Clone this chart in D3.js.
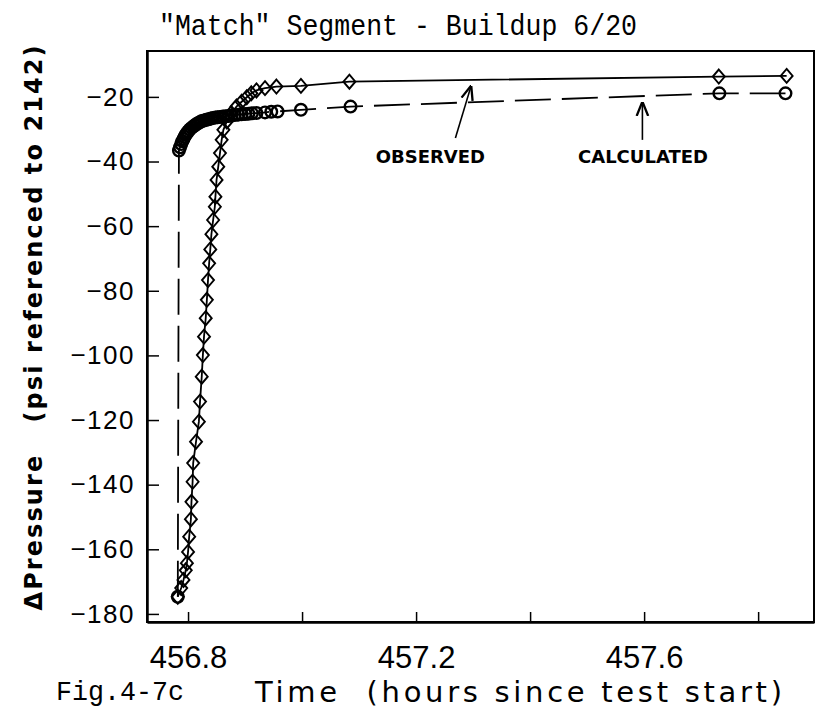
<!DOCTYPE html>
<html>
<head>
<meta charset="utf-8">
<script src="https://cdn.jsdelivr.net/npm/d3@7"></script>
<style>
  body { margin: 0; background: #fff; }
  svg { display: block; }
</style>
</head>
<body>
<div id="chart"></div>
<script>
// observed buildup (diamonds, solid line)
const obsHours = [456.782, 456.788, 456.792, 456.796, 456.798, 456.800, 456.802, 456.805, 456.806,
  456.808, 456.809, 456.814, 456.819, 456.821, 456.824, 456.826, 456.828, 456.831, 456.833,
  456.835, 456.837, 456.839, 456.841, 456.844, 456.847, 456.848, 456.850, 456.853, 456.856,
  456.859, 456.862, 456.868, 456.876, 456.885, 456.894, 456.903, 456.911, 456.920, 456.935,
  456.955, 456.998, 457.083, 457.731, 457.850]
const obsPressure = [-174.7, -172.0, -169.5, -166.5, -164.3, -160.8, -156.1, -150.7, -145.3,
  -139.1, -133.3, -126.7, -120.5, -114.3, -106.6, -99.9, -94.2, -88.5, -82.8,
  -76.7, -71.5, -67.2, -62.5, -58.1, -54.0, -50.9, -45.7, -41.6, -37.4,
  -33.3, -30.2, -27.6, -25.0, -23.0, -21.5, -20.1, -18.9, -18.0, -17.3,
  -16.8, -16.6, -15.3, -13.7, -13.5]

// calculated (circles, dashed line)
const calcHours = [456.782, 456.784, 456.786, 456.788, 456.790, 456.792, 456.794, 456.796, 456.798,
  456.800, 456.803, 456.806, 456.809, 456.812, 456.815, 456.818, 456.821, 456.824, 456.828,
  456.832, 456.836, 456.840, 456.844, 456.848, 456.852, 456.856, 456.861, 456.866, 456.871,
  456.876, 456.882, 456.888, 456.894, 456.900, 456.906, 456.912, 456.920, 456.935, 456.946,
  456.957, 456.998, 457.085, 457.732, 457.848]
const calcPressure = [-174.7, -36.6, -35.6, -34.6, -33.7, -33.0, -32.3, -31.7, -31.2,
  -30.7, -30.1, -29.6, -29.2, -28.8, -28.4, -28.1, -27.8, -27.5, -27.3,
  -27.1, -26.9, -26.7, -26.5, -26.4, -26.3, -26.2, -26.1, -26.0, -25.9,
  -25.8, -25.6, -25.5, -25.4, -25.3, -25.2, -25.1, -25.0, -24.8, -24.6,
  -24.5, -24.0, -23.0, -18.9, -18.9]

const xTicks = [456.8, 457.0, 457.2, 457.4, 457.6, 457.8]
const xTickLabels = ['456.8', '', '457.2', '', '457.6', '']
const yTicks = [-20, -40, -60, -80, -100, -120, -140, -160, -180]

const margin = {top: 51, right: 3, bottom: 87, left: 147}
const width = 817 - margin.left - margin.right
const height = 709 - margin.top - margin.bottom

const x = d3.scaleLinear().domain([456.728, 457.898]).range([0, width])
const y = d3.scaleLinear().domain([-182.5, -5.8]).range([height, 0])

const root = d3.select('#chart').append('svg')
  .attr('width', 817)
  .attr('height', 709)

const svg = root.append('g')
  .attr('transform', 'translate(' + margin.left + ',' + margin.top + ')')

// frame
svg.append('rect')
  .attr('width', width)
  .attr('height', height)
  .attr('fill', 'none')
  .attr('stroke', '#000')
  .attr('stroke-width', 2)

// x axis, ticks pointing in
const xAxis = svg.append('g')
  .attr('transform', 'translate(0,' + height + ')')
  .call(d3.axisBottom(x).tickValues(xTicks).tickSizeInner(-10).tickSizeOuter(0)
    .tickPadding(24).tickFormat((d, i) => xTickLabels[i]))
xAxis.select('.domain').attr('stroke-width', 2.5)
xAxis.selectAll('line').attr('stroke-width', 1.5)
xAxis.selectAll('text')
  .attr('font-family', 'Liberation Sans, Arial, sans-serif')
  .attr('font-size', 31)
  .attr('fill', '#000')

// y axis
const yAxis = svg.append('g')
  .call(d3.axisLeft(y).tickValues(yTicks).tickSizeInner(-12).tickSizeOuter(0)
    .tickPadding(12).tickFormat(d => '\u2212' + Math.abs(d)))
yAxis.select('.domain').attr('stroke-width', 2.5)
yAxis.selectAll('line').attr('stroke-width', 1.5)
yAxis.selectAll('text')
  .attr('font-family', 'Liberation Sans, Arial, sans-serif')
  .attr('font-size', 26)
  .attr('letter-spacing', 1.5)
  .attr('fill', '#000')

// lines
const line = (xs, ys) => d3.line()
  .x((d, i) => x(xs[i]))
  .y((d, i) => y(ys[i]))(xs)

svg.append('path')
  .attr('d', line(obsHours, obsPressure))
  .attr('fill', 'none')
  .attr('stroke', '#000')
  .attr('stroke-width', 1.8)

svg.append('path')
  .attr('d', line(calcHours, calcPressure))
  .attr('fill', 'none')
  .attr('stroke', '#000')
  .attr('stroke-width', 1.8)
  .attr('stroke-dasharray', '36,11')

// markers
svg.selectAll('.obs')
  .data(obsHours)
  .enter().append('path')
    .attr('class', 'obs')
    .attr('d', 'M0,-7L6,0L0,7L-6,0Z')
    .attr('transform', (d, i) => 'translate(' + x(d) + ',' + y(obsPressure[i]) + ')')
    .attr('fill', 'none')
    .attr('stroke', '#000')
    .attr('stroke-width', 1.9)

svg.selectAll('.calc')
  .data(calcHours)
  .enter().append('circle')
    .attr('class', 'calc')
    .attr('cx', d => x(d))
    .attr('cy', (d, i) => y(calcPressure[i]))
    .attr('r', 5.8)
    .attr('fill', 'none')
    .attr('stroke', '#000')
    .attr('stroke-width', 2.4)

// annotations
const defs = root.append('defs')
defs.append('marker')
  .attr('id', 'head')
  .attr('viewBox', '0 0 10 10')
  .attr('refX', 9).attr('refY', 5)
  .attr('markerWidth', 9).attr('markerHeight', 9)
  .attr('orient', 'auto')
  .append('path')
    .attr('d', 'M0,1L10,5L0,9')
    .attr('fill', 'none')
    .attr('stroke', '#000')
    .attr('stroke-width', 1.6)

const notes = [
  {text: 'OBSERVED', tx: 457.225, ty: -40.4, x0: 457.269, y0: -32.7, x1: 457.296, y1: -16.9},
  {text: 'CALCULATED', tx: 457.598, ty: -40.4, x0: 457.597, y0: -33.3, x1: 457.597, y1: -21.9}
]
notes.forEach(n => {
  svg.append('line')
    .attr('x1', x(n.x0)).attr('y1', y(n.y0))
    .attr('x2', x(n.x1)).attr('y2', y(n.y1))
    .attr('stroke', '#000')
    .attr('stroke-width', 1.6)
    .attr('marker-end', 'url(#head)')
  svg.append('text')
    .attr('x', x(n.tx)).attr('y', y(n.ty))
    .attr('text-anchor', 'middle')
    .attr('font-family', 'DejaVu Sans, sans-serif')
    .attr('font-weight', 'bold')
    .attr('font-size', 18)
    .text(n.text)
})

// titles
root.append('text')
  .attr('x', 159).attr('y', 35)
  .attr('font-family', 'Liberation Mono, monospace')
  .attr('font-size', 30)
  .attr('textLength', 478)
  .attr('lengthAdjust', 'spacingAndGlyphs')
  .text('"Match" Segment - Buildup 6/20')

root.append('text')
  .attr('x', 56).attr('y', 700)
  .attr('font-family', 'Liberation Mono, monospace')
  .attr('font-size', 28)
  .attr('textLength', 128)
  .attr('lengthAdjust', 'spacingAndGlyphs')
  .text('Fig.4-7c')

root.append('text')
  .attr('x', 255).attr('y', 702)
  .attr('font-family', 'DejaVu Sans, sans-serif')
  .attr('font-size', 29)
  .attr('textLength', 527)
  .text('Time\u00a0\u00a0(hours since test start)')

root.append('text')
  .attr('transform', 'translate(42,328) rotate(-90)')
  .attr('text-anchor', 'middle')
  .attr('font-family', 'DejaVu Sans, sans-serif')
  .attr('font-weight', 'bold')
  .attr('font-size', 24)
  .attr('textLength', 565)
  .text('\u0394Pressure\u00a0\u00a0\u00a0(psi referenced to 2142)')
</script>
</body>
</html>
